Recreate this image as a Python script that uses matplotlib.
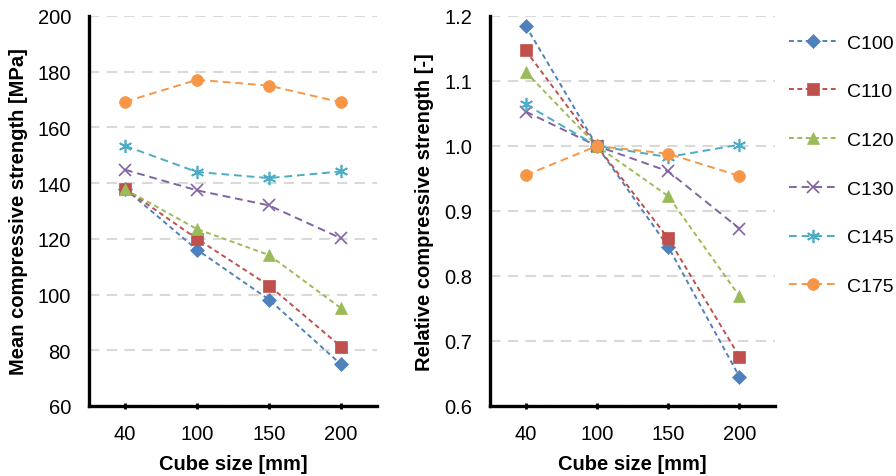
import matplotlib
matplotlib.use('Agg')
from matplotlib import pyplot as plt

plt.rcParams['font.family'] = ['Liberation Sans', 'DejaVu Sans']

sizes = ['40', '100', '150', '200']
names = ['C100', 'C110', 'C120', 'C130', 'C145', 'C175']

# mean compressive strength [MPa]
c100 = [138.0, 116.1, 98.2, 74.9]
c110 = [138.0, 120.0, 103.2, 81.3]
c120 = [137.8, 123.5, 114.2, 95.1]
c130 = [144.8, 137.4, 132.0, 120.2]
c145 = [153.4, 144.0, 141.8, 144.2]
c175 = [169.2, 177.1, 175.0, 169.0]
mean_strength = [c100, c110, c120, c130, c145, c175]

# relative to 100 mm cube
r100 = [1.185, 1.0, 0.845, 0.645]
r110 = [1.147, 1.0, 0.858, 0.676]
r120 = [1.114, 1.0, 0.923, 0.769]
r130 = [1.053, 1.0, 0.961, 0.873]
r145 = [1.064, 1.0, 0.983, 1.002]
r175 = [0.955, 1.0, 0.988, 0.954]
rel_strength = [r100, r110, r120, r130, r145, r175]

colors = ['#4F81BD', '#C0504D', '#9BBB59', '#8064A2', '#4BACC6', '#F79646']
markers = ['D', 's', '^', 'x', (6, 2, 0), 'o']
msizes = [7, 8.5, 9, 8.5, 9.5, 8.5]
dashes = [(2.5, 1.8), (2.5, 1.8), (2.5, 1.8), (4, 2.5), (4, 2.5), (4, 2.5)]

fig = plt.figure(figsize=(8.96, 4.77), dpi=100)
ax1 = fig.add_axes([0.0993, 0.1468, 0.3215, 0.8176])
ax2 = fig.add_axes([0.5469, 0.1468, 0.3181, 0.8176])

x = list(range(len(sizes)))


def style(ax, ylim, yticks, ylabel, fmt):
    ax.set_xlim(-0.5, 3.5)
    ax.set_ylim(*ylim)
    ax.set_yticks(yticks)
    ax.set_yticklabels([fmt % t for t in yticks])
    ax.set_xticks(x)
    ax.set_xticklabels(sizes)
    for s in ['top', 'right']:
        ax.spines[s].set_visible(False)
    for s in ['left', 'bottom']:
        ax.spines[s].set_linewidth(2.4)
    ax.tick_params(axis='y', length=0, labelsize=14.5, pad=13)
    ax.tick_params(axis='x', length=4, width=2, direction='inout', labelsize=14.5, pad=11)
    ax.yaxis.grid(True, color='#D9D9D9', linestyle=(0, (5, 3.5)), linewidth=1.5)
    ax.set_axisbelow(True)
    ax.set_xlabel('Cube size [mm]', fontsize=14.5, fontweight='bold', labelpad=8)
    ax.set_ylabel(ylabel, fontsize=14.5, fontweight='bold', labelpad=7)
    for sp in ax.spines.values():
        sp.set_zorder(5)


handles = []
for i in range(len(names)):
    kw = dict(color=colors[i], marker=markers[i], markersize=msizes[i],
              markeredgecolor=colors[i], linewidth=1.4, dashes=dashes[i],
              markeredgewidth=1.2 if markers[i] in ('x', (6, 2, 0)) else 0.5,
              clip_on=False, zorder=3)
    h, = ax1.plot(x, mean_strength[i], label=names[i], **kw)
    ax2.plot(x, rel_strength[i], **kw)
    handles.append(h)

style(ax1, (60, 200), list(range(60, 201, 20)), 'Mean compressive strength [MPa]', '%d')
style(ax2, (0.6, 1.2), [0.6, 0.7, 0.8, 0.9, 1.0, 1.1, 1.2], 'Relative compressive strength [-]', '%.1f')

fig.legend(handles, names, loc='upper left', bbox_to_anchor=(0.872, 0.943),
           frameon=False, fontsize=14, handlelength=2.5, labelspacing=1.6,
           handletextpad=0.5, borderaxespad=0)

fig.savefig('out.png', dpi=100)
